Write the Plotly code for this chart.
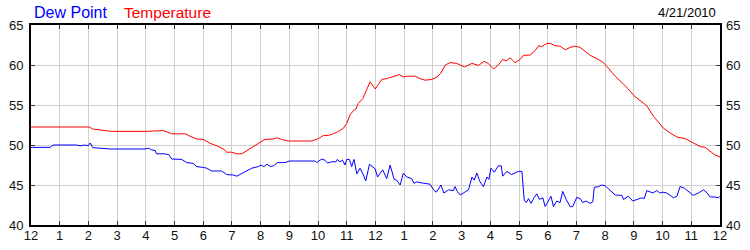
import plotly.graph_objects as go

# Hours after midnight (x) and values for each series
temp_hours = [0, 2.03, 2.15, 2.35, 2.81, 3.97, 4.30, 4.61, 4.90, 5.37,
              5.54, 5.77, 6.0, 6.24, 6.47, 6.70, 6.82, 6.99, 7.17, 7.34,
              7.52, 7.75, 7.98, 8.15, 8.44, 8.56, 8.73, 8.97, 9.78, 10.01,
              10.19, 10.36, 10.53, 10.71, 10.88, 11.0, 11.11, 11.23, 11.32, 11.40,
              11.56, 11.70, 11.81, 11.99, 12.22, 12.39, 12.63, 12.83, 12.97, 13.09,
              13.38, 13.55, 13.73, 13.96, 14.14, 14.28, 14.43, 14.60, 14.83, 15.10,
              15.36, 15.59, 15.78, 15.93, 16.11, 16.28, 16.43, 16.55, 16.69, 16.86,
              17.04, 17.15, 17.39, 17.56, 17.68, 17.79, 17.97, 18.08, 18.26, 18.43,
              18.61, 18.78, 18.95, 19.13, 19.30, 19.48, 19.71, 19.94, 20.11, 20.35,
              20.64, 20.81, 20.99, 21.22, 21.45, 21.68, 21.86, 22.03, 22.26, 22.50,
              22.79, 22.96, 23.14, 23.31, 23.48, 23.66, 23.83, 24.0]
temperature = [52.25, 52.25, 52.0, 51.9, 51.7, 51.7, 51.8, 51.8, 51.4, 51.4,
               51.1, 50.75, 50.7, 50.2, 49.9, 49.5, 49.1, 49.1, 48.9, 48.9,
               49.3, 49.8, 50.3, 50.7, 50.75, 50.9, 50.7, 50.5, 50.5, 50.8,
               51.2, 51.2, 51.4, 51.7, 52.1, 52.7, 53.75, 54.3, 54.5, 55.2,
               55.8, 56.9, 57.9, 57.0, 58.2, 58.3, 58.6, 58.8, 58.5, 58.6,
               58.6, 58.3, 58.1, 58.2, 58.5, 59.0, 60.0, 60.3, 60.2, 59.75,
               60.2, 59.95, 60.45, 60.2, 59.5, 60.0, 60.7, 60.5, 60.9, 60.3,
               60.7, 61.2, 61.25, 61.8, 62.4, 62.3, 62.7, 62.7, 62.4, 62.35,
               61.9, 62.2, 62.35, 62.2, 61.7, 61.2, 60.8, 60.3, 59.6, 58.6,
               57.6, 57.0, 56.2, 55.6, 54.9, 53.6, 52.8, 52.1, 51.5, 51.0,
               50.8, 50.5, 50.1, 49.8, 49.7, 49.2, 48.75, 48.5]

dew_hours = [0, 0.66, 0.77, 1.59, 1.71, 1.87, 1.99, 2.06, 2.15, 2.35,
             2.75, 3.97, 4.09, 4.20, 4.33, 4.37, 4.63, 4.80, 4.90, 5.25,
             5.42, 5.65, 5.77, 6.0, 6.12, 6.29, 6.64, 6.82, 7.05, 7.17,
             7.34, 7.52, 7.69, 7.92, 8.01, 8.11, 8.22, 8.34, 8.45, 8.58,
             8.73, 8.85, 9.0, 9.90, 9.95, 10.13, 10.24, 10.33, 10.47, 10.62,
             10.67, 10.76, 10.85, 10.94, 11.0, 11.09, 11.17, 11.25, 11.35, 11.46,
             11.58, 11.66, 11.79, 11.99, 12.07, 12.25, 12.39, 12.51, 12.65, 12.74,
             12.86, 12.97, 13.09, 13.26, 13.34, 13.43, 13.55, 13.73, 13.90, 14.02,
             14.12, 14.28, 14.38, 14.55, 14.71, 14.77, 14.85, 14.95, 15.12, 15.24,
             15.36, 15.44, 15.53, 15.64, 15.76, 15.88, 15.95, 16.02, 16.14, 16.28,
             16.38, 16.43, 16.57, 16.74, 16.98, 17.10, 17.18, 17.25, 17.33, 17.42,
             17.53, 17.62, 17.71, 17.83, 17.91, 18.03, 18.11, 18.20, 18.31, 18.43,
             18.52, 18.64, 18.78, 18.87, 19.01, 19.13, 19.22, 19.34, 19.48, 19.57,
             19.62, 19.77, 19.88, 20.0, 20.17, 20.35, 20.58, 20.64, 20.76, 20.81,
             20.96, 21.10, 21.27, 21.36, 21.45, 21.66, 21.80, 21.90, 22.0, 22.15,
             22.26, 22.38, 22.50, 22.61, 22.76, 22.90, 23.07, 23.25, 23.43, 23.55,
             23.66, 23.83, 23.95, 24.0]
dew_point = [49.7, 49.7, 50.0, 50.0, 49.9, 50.0, 49.9, 50.25, 49.67, 49.6,
             49.5, 49.5, 49.6, 49.4, 49.3, 48.9, 48.9, 48.8, 48.25, 48.2,
             47.8, 47.7, 47.3, 47.2, 47.1, 46.75, 46.75, 46.3, 46.25, 46.1,
             46.4, 46.75, 47.1, 47.3, 47.5, 47.3, 47.6, 47.3, 47.4, 47.8,
             47.75, 47.8, 48.0, 48.0, 47.8, 48.25, 48.1, 47.75, 47.9, 47.9,
             48.2, 47.9, 48.1, 47.5, 48.2, 48.2, 47.3, 48.2, 46.4, 47.1,
             46.25, 45.5, 47.6, 47.0, 46.0, 46.9, 45.8, 47.5, 45.7, 45.6,
             45.0, 46.5, 46.0, 45.8, 45.2, 45.4, 45.3, 45.2, 45.1, 44.4,
             44.1, 45.0, 44.0, 44.4, 44.3, 44.8, 44.2, 43.75, 44.1, 44.4,
             46.0, 45.6, 46.5, 45.4, 44.8, 46.0, 45.7, 47.1, 46.6, 47.4,
             47.4, 46.1, 46.7, 46.3, 46.7, 46.7, 43.1, 42.8, 43.3, 42.7,
             43.45, 43.9, 43.2, 43.4, 42.3, 43.0, 43.6, 42.3, 43.0, 42.8,
             44.2, 43.2, 42.3, 42.3, 43.45, 43.3, 42.8, 43.0, 42.7, 42.9,
             44.7, 44.8, 45.0, 44.9, 44.3, 43.75, 43.7, 43.2, 43.5, 43.6,
             43.0, 43.2, 43.4, 43.3, 44.3, 44.0, 44.3, 44.0, 44.1, 44.0,
             43.75, 43.4, 43.6, 44.8, 44.6, 44.2, 43.7, 44.0, 44.4, 44.0,
             43.5, 43.5, 43.4, 43.6]

x_tick_vals = list(range(0, 25))
x_tick_text = ["12", "1", "2", "3", "4", "5", "6", "7", "8", "9", "10", "11",
               "12", "1", "2", "3", "4", "5", "6", "7", "8", "9", "10", "11", "12"]
y_tick_vals = [40, 45, 50, 55, 60, 65]
date_label = "4/21/2010"

FONT = "Liberation Sans"
L, R, T, B = 31, 30, 25, 25
W, H = 750, 250
PW = W - L - R
PH = H - T - B

fig = go.Figure()
fig.add_trace(go.Scatter(x=dew_hours, y=dew_point, mode="lines",
                         line=dict(color="#0000ff", width=1), name="Dew Point"))
fig.add_trace(go.Scatter(x=temp_hours, y=temperature, mode="lines",
                         line=dict(color="#ff0000", width=1), name="Temperature"))

tick_font = dict(family=FONT, size=13, color="#111111")
axis_common = dict(showline=True, linecolor="black", linewidth=2,
                   gridcolor="#cfcfcf", gridwidth=1, zeroline=False,
                   ticks="inside", ticklen=4, tickcolor="#333333",
                   tickfont=tick_font, automargin=False)

fig.update_layout(
    width=W, height=H,
    margin=dict(l=L, r=R, t=T, b=B, pad=0, autoexpand=False),
    paper_bgcolor="white", plot_bgcolor="white",
    showlegend=False,
    font=dict(family=FONT, size=13, color="black"),
    xaxis=dict(range=[0, 24], tickmode="array", tickvals=x_tick_vals,
               ticktext=x_tick_text, mirror="ticks", showgrid=True,
               ticklabelstandoff=-3, **axis_common),
    yaxis=dict(range=[40, 65], tickmode="array", tickvals=y_tick_vals,
               mirror="ticks", showgrid=True, ticklabelstandoff=3, **axis_common),
    yaxis2=dict(range=[40, 65], tickmode="array", tickvals=y_tick_vals,
                overlaying="y", side="right", showgrid=False, showline=False,
                zeroline=False, ticks="", ticklabelstandoff=5, automargin=False,
                tickfont=tick_font),
    annotations=[
        dict(text="Dew Point", xref="paper", yref="paper",
             x=(32 - L) / PW, y=1 + (T - 12) / PH, xanchor="left", yanchor="middle",
             showarrow=False, font=dict(family=FONT, size=16, color="#0000ff")),
        dict(text="Temperature", xref="paper", yref="paper",
             x=(122 - L) / PW, y=1 + (T - 12) / PH, xanchor="left", yanchor="middle",
             showarrow=False, font=dict(family=FONT, size=15.5, color="#ff0000")),
        dict(text=date_label, xref="paper", yref="paper",
             x=(718 - L) / PW, y=1 + (T - 13) / PH, xanchor="right", yanchor="middle",
             showarrow=False, font=dict(family=FONT, size=13, color="black")),
    ],
)
# invisible trace to activate right axis
fig.add_trace(go.Scatter(x=[0], y=[40], yaxis="y2", mode="markers",
                         marker=dict(opacity=0), hoverinfo="skip", showlegend=False))

fig.write_html("out.html")
